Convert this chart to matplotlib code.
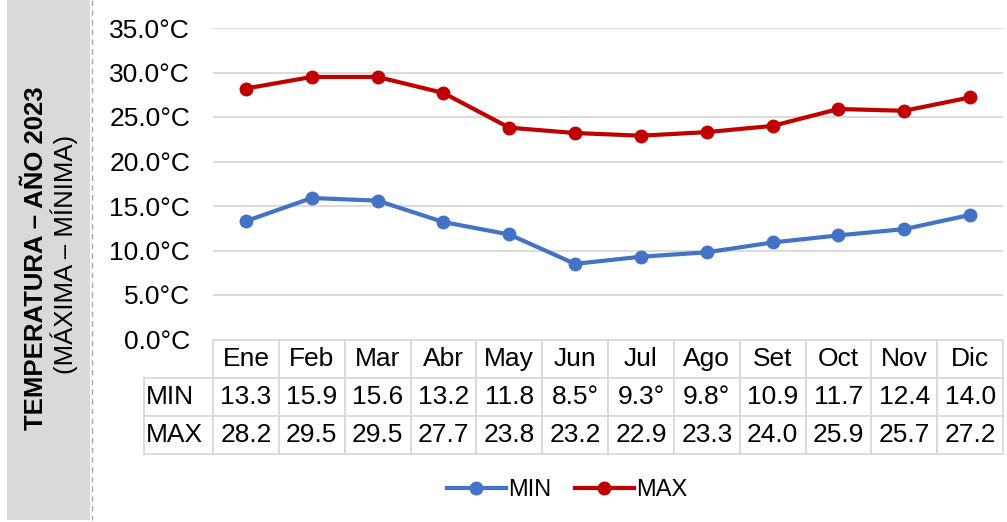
import numpy as np
import matplotlib.pyplot as plt
from matplotlib.patches import Rectangle
from matplotlib.lines import Line2D

plt.rcParams['font.family'] = ['Liberation Sans', 'DejaVu Sans']

# monthly temperatures 2023
months = ['Ene', 'Feb', 'Mar', 'Abr', 'May', 'Jun', 'Jul', 'Ago', 'Set', 'Oct', 'Nov', 'Dic']
t_min = [13.3, 15.9, 15.6, 13.2, 11.8, 8.5, 9.3, 9.8, 10.9, 11.7, 12.4, 14.0]
t_max = [28.2, 29.5, 29.5, 27.7, 23.8, 23.2, 22.9, 23.3, 24.0, 25.9, 25.7, 27.2]
y_ticks = [0, 5, 10, 15, 20, 25, 30, 35]

blue = '#4472C4'
red = '#C00000'
grid_c = '#d9d9d9'

W, H = 1007, 522
fig = plt.figure(figsize=(W / 100, H / 100), dpi=100)


def fx(px):
    return px / W


def fy(py):
    return 1 - py / H


# gray side panel with dashed edge
fig.patches.append(Rectangle((fx(7), fy(520)), fx(90) - fx(7), fy(0) - fy(520),
                             transform=fig.transFigure, facecolor='#d9d9d9',
                             edgecolor='none', zorder=0))
fig.lines.append(Line2D([fx(92), fx(92)], [fy(0), fy(520)], transform=fig.transFigure,
                        color='#a6a6a6', lw=1, ls=(0, (4, 3))))
fig.text(fx(36), fy(258), 'TEMPERATURA – AÑO 2023', rotation=90, ha='center',
         va='center', fontsize=18.5, fontweight='bold')
fig.text(fx(64), fy(254), '(MÁXIMA – MÍNIMA)', rotation=90, ha='center',
         va='center', fontsize=18.5)

# line chart
x = np.arange(len(months))
ax = fig.add_axes([fx(213), fy(339.5), fx(1003) - fx(213), fy(28) - fy(339.5)])
ax.plot(x, t_min, color=blue, lw=3, marker='o', ms=9, label='MIN', zorder=3)
ax.plot(x, t_max, color=red, lw=3, marker='o', ms=9, label='MAX', zorder=3)
ax.set_xlim(-0.5, len(months) - 0.5)
ax.set_ylim(0, 35)
ax.set_yticks(y_ticks)
ax.set_yticklabels([f'{v:.1f}°C' for v in y_ticks], fontsize=19)
ax.set_xticks([])
ax.tick_params(axis='y', length=0, pad=16.5)
ax.grid(axis='y', color=grid_c, lw=1.3)
ax.set_axisbelow(True)
for s in ax.spines.values():
    s.set_visible(False)

# data table under the chart
tab_ax = fig.add_axes([fx(144), fy(454), fx(1003) - fx(144), fy(340) - fy(454)])
tab_ax.axis('off')
cells = [[''] + months,
         ['MIN'] + [f'{v:.1f}°C'[:4] for v in t_min],
         ['MAX'] + [f'{v:.1f}°C'[:4] for v in t_max]]
label_w = 69 / 859
col_w = [label_w] + [(1 - label_w) / len(months)] * len(months)
tbl = tab_ax.table(cellText=cells, colWidths=col_w, cellLoc='center', bbox=[0, 0, 1, 1])
tbl.auto_set_font_size(False)
tbl.set_fontsize(19)
for (r, c), cell in tbl.get_celld().items():
    cell.set_edgecolor(grid_c)
    cell.set_linewidth(1.3)
    cell.PAD = 0.02
    if c == 0:
        cell.set_text_props(ha='left')
        cell._loc = 'left'
    if r == 0 and c == 0:
        cell.visible_edges = ''

handles, labels = ax.get_legend_handles_labels()
fig.legend(handles, labels, loc='center', bbox_to_anchor=(fx(567), fy(490)), ncol=2,
           frameon=False, fontsize=17, handlelength=2.5, handletextpad=0.1,
           columnspacing=1.0)

fig.savefig('out.png', dpi=100)
